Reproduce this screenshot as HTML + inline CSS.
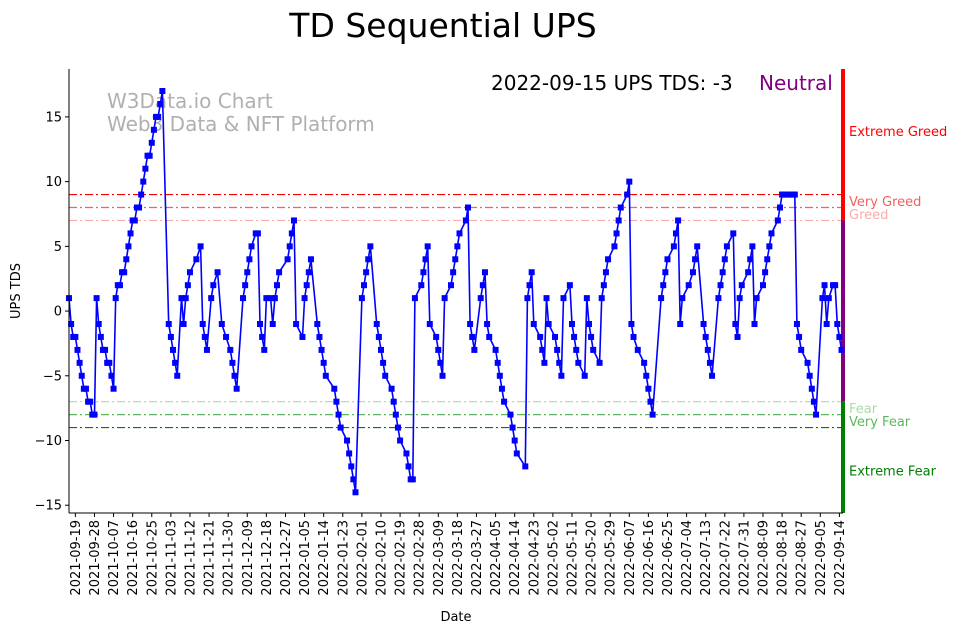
<!DOCTYPE html>
<html><head><meta charset="utf-8"><style>
body{margin:0;background:#fff;font-family:"Liberation Sans","DejaVu Sans",sans-serif}
svg text{font-family:"DejaVu Sans","Liberation Sans",sans-serif}
</style></head><body>
<svg id="chart" width="962" height="633" viewBox="0 0 962 633" xmlns="http://www.w3.org/2000/svg">
<text x="443" y="37" font-size="33" text-anchor="middle">TD Sequential UPS</text>
<text x="107" y="108" font-size="20" fill="#b0b0b0">W3Data.io Chart</text>
<text x="107" y="131" font-size="20" fill="#b0b0b0">Web3 Data &amp; NFT Platform</text>
<text x="491" y="90" font-size="20">2022-09-15 UPS TDS: -3</text>
<text x="759" y="90" font-size="20" fill="#800080">Neutral</text>
<g id="plot"></g>
<text transform="translate(20,291) rotate(-90)" font-size="13" text-anchor="middle">UPS TDS</text>
<text x="456" y="621" font-size="13" text-anchor="middle">Date</text>
</svg>
<script>
const days=[0,1,2,3,4,5,6,7,8,9,10,11,12,13,14,15,16,17,18,19,20,21,22,23,24,25,26,27,28,29,30,31,32,33,34,35,36,37,38,39,40,41,42,43,44,47,48,49,50,51,53,54,55,56,57,60,62,63,64,65,67,68,70,72,74,76,77,78,79,82,83,84,85,86,88,89,90,91,92,93,95,96,97,98,99,103,104,105,106,107,110,111,112,113,114,117,118,119,120,121,125,126,127,128,131,132,133,134,135,138,139,140,141,142,145,146,147,148,149,152,153,154,155,156,159,160,161,162,163,166,167,168,169,170,173,174,175,176,177,180,181,182,183,184,187,188,189,190,191,194,195,196,197,198,201,202,203,204,205,208,209,210,211,215,216,217,218,219,222,223,224,225,226,229,230,231,232,233,236,237,238,239,240,243,244,245,246,247,250,251,252,253,254,257,258,259,260,263,264,265,266,268,271,272,273,274,275,279,280,281,282,285,286,287,288,289,292,294,295,296,299,300,301,302,303,306,307,308,309,310,313,314,315,316,317,320,321,322,323,324,327,328,329,330,331,334,335,336,337,338,339,340,341,342,343,344,345,348,349,350,351,352,355,356,357,358,360,361,362,363,364];
const values=[1,-1,-2,-2,-3,-4,-5,-6,-6,-7,-7,-8,-8,1,-1,-2,-3,-3,-4,-4,-5,-6,1,2,2,3,3,4,5,6,7,7,8,8,9,10,11,12,12,13,14,15,15,16,17,-1,-2,-3,-4,-5,1,-1,1,2,3,4,5,-1,-2,-3,1,2,3,-1,-2,-3,-4,-5,-6,1,2,3,4,5,6,6,-1,-2,-3,1,1,-1,1,2,3,4,5,6,7,-1,-2,1,2,3,4,-1,-2,-3,-4,-5,-6,-7,-8,-9,-10,-11,-12,-13,-14,1,2,3,4,5,-1,-2,-3,-4,-5,-6,-7,-8,-9,-10,-11,-12,-13,-13,1,2,3,4,5,-1,-2,-3,-4,-5,1,2,3,4,5,6,7,8,-1,-2,-3,1,2,3,-1,-2,-3,-4,-5,-6,-7,-8,-9,-10,-11,-12,1,2,3,-1,-2,-3,-4,1,-1,-2,-3,-4,-5,1,2,-1,-2,-3,-4,-5,1,-1,-2,-3,-4,1,2,3,4,5,6,7,8,9,10,-1,-2,-3,-4,-5,-6,-7,-8,1,2,3,4,5,6,7,-1,1,2,3,4,5,-1,-2,-3,-4,-5,1,2,3,4,5,6,-1,-2,1,2,3,4,5,-1,1,2,3,4,5,6,7,8,9,9,9,9,9,9,9,-1,-2,-3,-4,-5,-6,-7,-8,1,2,-1,1,2,2,-1,-2,-3];
const yTicks=[15,10,5,0,-5,-10,-15];
const levels=[9,8,7,-7,-8,-9];
const levelColors=['#ff0000','#f06060','#ffaaaa','#a8dca8','#5cb85c','#008000'];
const zoneLabels=['Extreme Greed','Very Greed','Greed','Fear','Very Fear','Extreme Fear'];
const zoneLabelValues=[13.9,8.5,7.5,-7.5,-8.5,-12.3];
const startDate='2021-09-16';
const NS='http://www.w3.org/2000/svg';
const L=69,R=843,T=69,B=513;
const yMin=-15.6,yMax=18.7,dMax=364.7;
const X=d=>L+d/dMax*(R-L);
const Y=v=>B-(v-yMin)/(yMax-yMin)*(B-T);
const g=document.getElementById('plot');
function mk(tag,attrs){const e=document.createElementNS(NS,tag);for(const k in attrs)e.setAttribute(k,attrs[k]);g.appendChild(e);return e;}
// level lines
levels.forEach((lv,i)=>{const e=mk('line',{x1:L,x2:R,y1:Y(lv),y2:Y(lv),stroke:levelColors[i],'stroke-width':1.2,'stroke-dasharray':'8,3,2,3'});

});
// zone bar
[[yMax,7,'#ff0000'],[7,-7,'#800080'],[-7,yMin,'#008000']].forEach((z,i)=>{const e=mk('rect',{x:R-2,y:Y(z[0]),width:4,height:Y(z[1])-Y(z[0]),fill:z[2]});

});
zoneLabels.forEach((t,i)=>{const e=mk('text',{x:849,y:Y(zoneLabelValues[i])+5,'font-size':13,fill:levelColors[i]});e.textContent=t;

});
// series
let d='';days.forEach((dd,i)=>{d+=(i?'L':'M')+X(dd).toFixed(1)+','+Y(values[i]).toFixed(1);});
const line=mk('path',{d:d,fill:'none',stroke:'#0000ff','stroke-width':1.6});


days.forEach((dd,i)=>{const m=mk('rect',{x:X(dd)-3,y:Y(values[i])-3,width:6,height:6,fill:'#0000ff'});

});
// axes
const ax=mk('line',{x1:L,x2:L,y1:T,y2:B,stroke:'#000','stroke-width':1});


const bx=mk('line',{x1:L,x2:R,y1:B,y2:B,stroke:'#000','stroke-width':1});


yTicks.forEach(v=>{mk('line',{x1:L-4,x2:L,y1:Y(v),y2:Y(v),stroke:'#000'});
const t=mk('text',{x:L-7,y:Y(v)+4.5,'font-size':13,'text-anchor':'end'});t.textContent=v<0?'\u2212'+(-v):v;

});
const sd=new Date(startDate+'T00:00:00Z');
for(let dd=3;dd<=364;dd+=9){const x=X(dd);mk('line',{x1:x,x2:x,y1:B,y2:B+4,stroke:'#000'});
const dt=new Date(sd.getTime()+dd*86400000);const s=dt.toISOString().slice(0,10);
const t=mk('text',{transform:'translate('+(x+4.5)+','+(B+7)+') rotate(-90)','font-size':13,'text-anchor':'end'});t.textContent=s;

}
</script>
</body></html>
